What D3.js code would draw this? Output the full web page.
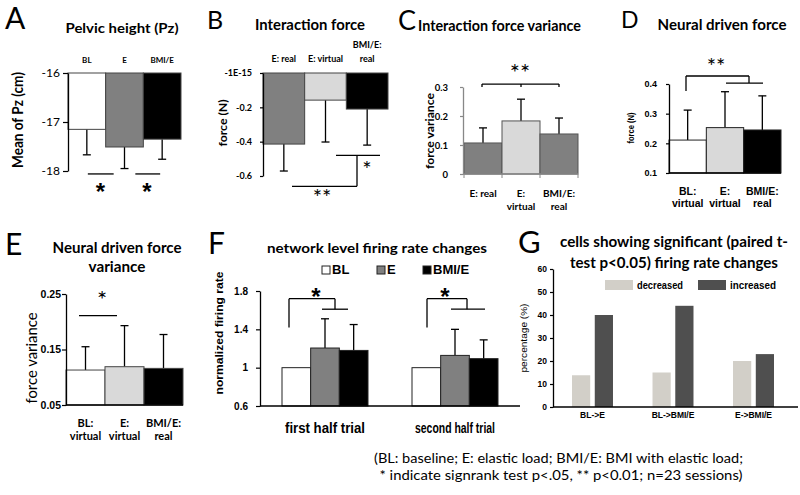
<!DOCTYPE html>
<html><head><meta charset="utf-8">
<script src="https://cdn.jsdelivr.net/npm/d3@7"></script>
<style>body{margin:0;background:#fff} svg{display:block}</style>
</head><body>
<svg id="chart" width="800" height="495"></svg>
<script>
// ---------- data ----------
const aCategories = ["BL", "E", "BMI/E"];
const aMeans = [-17.15, -17.51, -17.35];
const aErrEnds = [-17.67, -17.95, -17.76];
const aTicks = [-16, -17, -18];

const bCategories = ["E: real", "E: virtual", "BMI/E: real"];
const bLabelLines = [["E: real"], ["E: virtual"], ["BMI/E:", "real"]];
const bMeans = [-0.414, -0.158, -0.21];
const bErrEnds = [-0.571, -0.402, -0.42];
const bTicks = [0, -0.2, -0.4, -0.6];
const bTickLabels = ["-1E-15", "-0.2", "-0.4", "-0.6"];

const cCategories = ["E: real", "E: virtual", "BMI/E: real"];
const cLabelLines = [["E: real"], ["E:", "virtual"], ["BMI/E:", "real"]];
const cMeans = [0.107, 0.183, 0.138];
const cErrEnds = [0.159, 0.258, 0.193];
const cTicks = [0, 0.1, 0.2, 0.3];
const cTickLabels = ["0", "0.1", "0.2", "0.3"];

const dCategories = ["BL: virtual", "E: virtual", "BMI/E: real"];
const dLabelLines = [["BL:", "virtual"], ["E:", "virtual"], ["BMI/E:", "real"]];
const dMeans = [0.211, 0.253, 0.245];
const dErrEnds = [0.312, 0.374, 0.36];
const dTicks = [0.1, 0.2, 0.3, 0.4];

const eCategories = ["BL: virtual", "E: virtual", "BMI/E: real"];
const eLabelLines = [["BL:", "virtual"], ["E:", "virtual"], ["BMI/E:", "real"]];
const eMeans = [0.113, 0.119, 0.116];
const eErrEnds = [0.155, 0.193, 0.177];
const eTicks = [0.05, 0.15, 0.25];

const fGroups = ["first half trial", "second half trial"];
const fSeries = ["BL", "E", "BMI/E"];
const fFirstHalf = [1.0, 1.205, 1.18];
const fSecondHalf = [1.0, 1.128, 1.094];
const fFirstErrEnds = [null, 1.51, 1.45];
const fSecondErrEnds = [null, 1.40, 1.29];
const fTicks = [0.6, 1, 1.4, 1.8];

const gGroups = ["BL->E", "BL->BMI/E", "E->BMI/E"];
const gSeries = ["decreased", "increased"];
const gDecreased = [13.8, 15, 20];
const gIncreased = [40, 44, 23];
const gTicks = [0, 10, 20, 30, 40, 50, 60];

const footnote = ["(BL: baseline; E: elastic load; BMI/E: BMI with elastic load;",
                  "* indicate signrank test p<.05, ** p<0.01; n=23 sessions)"];

// ---------- helpers ----------
const svg = d3.select("#chart");
const CAL = "Lato, 'Open Sans', sans-serif";
const ARI = "'Liberation Sans', Arial, sans-serif";

function txt(x, y, s, o = {}) {
  const t = svg.append("text").attr("x", x).attr("y", y).text(s)
    .attr("font-family", o.ff || CAL).attr("font-size", o.fs || 12)
    .attr("font-weight", o.fw || "normal").attr("text-anchor", o.anchor || "middle")
    .attr("fill", o.fill || "#000");
  if (o.len) t.attr("textLength", o.len).attr("lengthAdjust", "spacingAndGlyphs");
  if (o.rot) t.attr("transform", `rotate(-90,${x},${y})`);
  return t;
}
function line(x1, y1, x2, y2, o = {}) {
  svg.append("line").attr("x1", x1).attr("y1", y1).attr("x2", x2).attr("y2", y2)
    .attr("stroke", o.stroke || "#000").attr("stroke-width", o.w || 1.3);
}
function star(cx, top, n, size, ff, fw) {
  txt(cx, top + size * 0.72, "*".repeat(n), { ff: ff || ARI, fw: fw || "bold", fs: size });
}
function yAxis(x, y, ticks, o) {
  const ax = d3.axisLeft(y).tickValues(ticks).tickSize(o.ts || 4).tickSizeOuter(0)
    .tickPadding(o.tp || 3).tickFormat(o.fmt || (d => String(d)));
  const g = svg.append("g").attr("transform", `translate(${x},0)`).call(ax);
  g.select(".domain").attr("stroke", o.color || "#000").attr("stroke-width", 1.3);
  g.selectAll(".tick line").attr("stroke", o.color || "#000").attr("stroke-width", 1.2);
  g.selectAll(".tick text").attr("font-family", o.ff).attr("font-size", o.fs)
    .attr("font-weight", o.fw || "bold").attr("fill", "#000");
  return g;
}
function barSet(xs, ys, cats, means, errs, base, colors, stroke) {
  const cw = 8;
  cats.forEach((c, i) => {
    const x0 = xs(c), bw = xs.bandwidth(), cx = x0 + bw / 2;
    if (errs[i] != null) {
      line(cx, ys(means[i]), cx, ys(errs[i]), { w: 1.3 });
      line(cx - cw / 2, ys(errs[i]), cx + cw / 2, ys(errs[i]), { w: 1.3 });
    }
    svg.append("rect").attr("x", x0).attr("width", bw)
      .attr("y", Math.min(ys(base), ys(means[i])))
      .attr("height", Math.abs(ys(means[i]) - ys(base)))
      .attr("fill", colors[i]).attr("stroke", stroke || "#333").attr("stroke-width", 1);
  });
}
function catLabels(xs, cats, lines, baselines, o) {
  cats.forEach((c, i) => {
    const cx = xs(c) + xs.bandwidth() / 2;
    const ls = lines[i];
    const bl = baselines[ls.length - 1];
    ls.forEach((s, j) => txt(cx, bl[j], s, o));
  });
}

// ---------- panel letters ----------
txt(5, 29, "A", { anchor: "start", fs: 30 });
txt(207, 29, "B", { anchor: "start", fs: 25 });
txt(398, 30, "C", { anchor: "start", fs: 27 });
txt(621, 28, "D", { anchor: "start", fs: 23 });
txt(5, 255, "E", { anchor: "start", fs: 30 });
txt(208, 254, "F", { anchor: "start", fs: 30 });
txt(518, 253, "G", { anchor: "start", fs: 31 });

// ---------- A ----------
const xA = d3.scaleBand().domain(aCategories).range([68, 181]);
const yA = d3.scaleLinear().domain([-16, -18]).range([73, 171]);
txt(122, 33, "Pelvic height (Pz)", { fw: "bold", fs: 14, len: 113 });
barSet(xA, yA, aCategories, aMeans, aErrEnds, -16, ["#ffffff", "#808080", "#000000"], "#444");
yAxis(68, yA, aTicks, { ts: 5, tp: 3, ff: CAL, fs: 12, fw: "normal" });
catLabels(xA, aCategories, aCategories.map(c => [c]), [[63]], { fw: "bold", fs: 8 });
txt(23, 120, "Mean of Pz (cm)", { fw: "bold", fs: 15, rot: true, len: 96 });
line(xA("BL") + xA.bandwidth() / 2 + 1, yA(-18.06), xA("E") + 8, yA(-18.06));
line(xA("BMI/E") - 8, yA(-18.06), xA("BMI/E") + xA.bandwidth() / 2 - 2, yA(-18.06));
star(100.5, 183, 1, 24);
star(147, 183, 1, 24);

// ---------- B ----------
const xB = d3.scaleBand().domain(bCategories).range([263, 388]);
const yB = d3.scaleLinear().domain([0, -0.6]).range([73, 176]);
txt(310, 30, "Interaction force", { fw: "bold", fs: 15, len: 110 });
barSet(xB, yB, bCategories, bMeans, bErrEnds, 0, ["#808080", "#d9d9d9", "#000000"], "#444");
yAxis(263, yB, bTicks, { ts: 3, tp: 8, ff: CAL, fs: 9, fmt: (d, i) => bTickLabels[i] });
catLabels(xB, bCategories, bLabelLines, [[62], [48, 62]], { fw: "bold", fs: 9 });
txt(227, 123, "force (N)", { fw: "bold", fs: 12, rot: true, len: 47 });
line(336, yB(-0.48), 380, yB(-0.48));
line(357, yB(-0.48), 357, yB(-0.66));
line(292, yB(-0.66), 357, yB(-0.66));
star(367, 161, 1, 22, CAL, "normal");
star(322, 189, 2, 22, CAL, "normal");

// ---------- C ----------
const xC = d3.scaleBand().domain(cCategories).range([464, 578]);
const yC = d3.scaleLinear().domain([0, 0.3]).range([174, 87]);
txt(418, 31, "Interaction force variance", { anchor: "start", fw: "bold", fs: 15, len: 163 });
barSet(xC, yC, cCategories, cMeans, cErrEnds, 0, ["#808080", "#d9d9d9", "#808080"], "#555");
const cAx = yAxis(463, yC, cTicks, { ts: 3, tp: 12, ff: CAL, fs: 9, color: "#888" });
cAx.selectAll(".tick text").remove();
cTicks.forEach((t, i) => txt(448, yC(t) + 3.5, cTickLabels[i], { anchor: "end", fw: "bold", fs: 9.5 }));
line(463, yC(0), 578, yC(0), { stroke: "#888" });
[464, 502, 540, 578].forEach(x => line(x, yC(0), x, yC(0) + 4, { stroke: "#888", w: 1 }));
catLabels(xC, cCategories, cLabelLines, [[197], [197, 210]], { fw: "bold", fs: 10 });
txt(434, 131, "force variance", { fw: "bold", fs: 12, rot: true, len: 76 });
{
  const yb = yC(0.31), y0 = yC(0.3);
  const c1 = xC(cCategories[0]) + xC.bandwidth() / 2 - 1;
  const c2 = xC(cCategories[1]) + xC.bandwidth() / 2;
  const c3 = xC(cCategories[2]) + xC.bandwidth() / 2;
  line(c1, yb, c3, yb); line(c1, yb, c1, y0); line(c3, yb, c3, y0); line(c2, yb, c2, y0);
}
star(520, 64, 2, 24, CAL, "normal");

// ---------- D ----------
const xD = d3.scaleBand().domain(dCategories).range([669, 781]);
const yD = d3.scaleLinear().domain([0.1, 0.4]).range([173, 84]);
txt(722, 30, "Neural driven force", { fw: "bold", fs: 15, len: 129 });
barSet(xD, yD, dCategories, dMeans, dErrEnds, 0.1, ["#ffffff", "#d9d9d9", "#000000"], "#222");
yAxis(669, yD, dTicks, { ts: 3, tp: 9, ff: ARI, fs: 9 });
line(669, yD(0.1), 781, yD(0.1));
catLabels(xD, dCategories, dLabelLines, [[195], [195, 207]], { ff: ARI, fw: "bold", fs: 10.5 });
txt(634, 128, "force (N)", { ff: ARI, fw: "bold", fs: 8.5, rot: true, len: 31 });
line(686, yD(0.376), 686, yD(0.427));
line(686, yD(0.427), 749, yD(0.427));
line(749, yD(0.427), 749, yD(0.403));
line(726, yD(0.403), 763, yD(0.403));
star(716, 58, 2, 22, CAL, "normal");

// ---------- E ----------
const xE = d3.scaleBand().domain(eCategories).range([66, 183]);
const yE = d3.scaleLinear().domain([0.05, 0.25]).range([405, 294]);
txt(117, 253, "Neural driven force", { fw: "bold", fs: 15, len: 129 });
txt(117, 272, "variance", { fw: "bold", fs: 15, len: 57 });
barSet(xE, yE, eCategories, eMeans, eErrEnds, 0.05, ["#ffffff", "#d9d9d9", "#000000"], "#444");
yAxis(66, yE, eTicks, { ts: 4, tp: 1, ff: ARI, fs: 10.5 });
line(66, yE(0.05), 183, yE(0.05));
catLabels(xE, eCategories, eLabelLines, [[427], [427, 440]], { fw: "bold", fs: 11 });
txt(37, 358, "force variance", { fs: 15, rot: true, len: 91 });
line(79, yE(0.211), 117, yE(0.211));
star(102, 291, 1, 24, CAL, "normal");

// ---------- F ----------
const fOuter = d3.scaleBand().domain(fGroups).range([282, 498]).paddingInner(0.3385);
const yF = d3.scaleLinear().domain([0.6, 1.8]).range([406, 291]);
const fColors = ["#ffffff", "#808080", "#000000"];
txt(377, 253, "network level firing rate changes", { fw: "bold", fs: 14, len: 220 });
[[fFirstHalf, fFirstErrEnds], [fSecondHalf, fSecondErrEnds]].forEach(([vals, errs], gi) => {
  const gx = fOuter(fGroups[gi]);
  const xs = d3.scaleBand().domain(fSeries).range([gx, gx + fOuter.bandwidth()]);
  barSet(xs, yF, fSeries, vals, errs, 0.6, fColors, "#222");
});
yAxis(260, yF, fTicks, { ts: 4, tp: 8, ff: ARI, fs: 10 });
line(260, yF(0.6), 520, yF(0.6));
fGroups.forEach(gname => txt(fOuter(gname) + fOuter.bandwidth() / 2, 433, gname, { ff: ARI, fw: "bold", fs: 15, len: 80 }));
txt(223, 333, "normalized firing rate", { ff: ARI, fw: "bold", fs: 11, rot: true, len: 123 });
const fLegX = [322, 377, 423];
fSeries.forEach((s, i) => {
  svg.append("rect").attr("x", fLegX[i]).attr("y", 266).attr("width", 8).attr("height", 8)
    .attr("fill", fColors[i]).attr("stroke", "#222").attr("stroke-width", 1);
  txt(fLegX[i] + 10, 274, s, { ff: ARI, fw: "bold", fs: 13, anchor: "start" });
});
[[7, 53, 40, 66, 34], [15, 55, 39, 73, 33]].forEach((o, gi) => {
  const gx = fOuter(fGroups[gi]);
  line(gx + o[0], yF(1.42), gx + o[0], yF(1.72));
  line(gx + o[0], yF(1.72), gx + o[1], yF(1.72));
  line(gx + o[1], yF(1.72), gx + o[1], yF(1.61));
  line(gx + o[2], yF(1.61), gx + o[3], yF(1.61));
  star(gx + o[4], 288, 1, 24);
});

// ---------- G ----------
const gOuter = d3.scaleBand().domain(gGroups).range([572, 774]).paddingInner(0.491);
const gInner = d3.scaleBand().domain(gSeries).range([0, gOuter.bandwidth()]).paddingInner(0.2);
const yG = d3.scaleLinear().domain([0, 60]).range([407, 269]);
const gColors = ["#d2cfc8", "#4f4f4f"];
txt(674, 247, "cells showing  significant (paired t-", { fw: "bold", fs: 15, len: 228 });
txt(674, 268, "test p<0.05) firing rate changes", { fw: "bold", fs: 15, len: 208 });
gGroups.forEach((gname, i) => {
  [gDecreased[i], gIncreased[i]].forEach((v, j) => {
    svg.append("rect").attr("x", gOuter(gname) + gInner(gSeries[j])).attr("width", gInner.bandwidth())
      .attr("y", yG(v)).attr("height", yG(0) - yG(v)).attr("fill", gColors[j]);
  });
  txt(gOuter(gname) + gOuter.bandwidth() / 2, 418, gname, { ff: ARI, fw: "bold", fs: 8.5 });
});
yAxis(553, yG, gTicks, { ts: 3, tp: 3, ff: ARI, fs: 8.5 });
line(553, yG(0), 798, yG(0), { w: 1.6 });
txt(527, 338, "percentage (%)", { ff: ARI, fs: 9, rot: true, len: 69 });
const gLegX = [605, 698];
gSeries.forEach((s, i) => {
  svg.append("rect").attr("x", gLegX[i]).attr("y", 280).attr("width", 28).attr("height", 10).attr("fill", gColors[i]);
  txt(gLegX[i] + 32, 289, s, { ff: ARI, fw: "bold", fs: 10, anchor: "start", len: 46 });
});

// ---------- footnote ----------
txt(558.5, 462.5, footnote[0], { fs: 14, len: 369 });
txt(561, 479.5, footnote[1], { fs: 14, len: 363 });
</script>
</body></html>
